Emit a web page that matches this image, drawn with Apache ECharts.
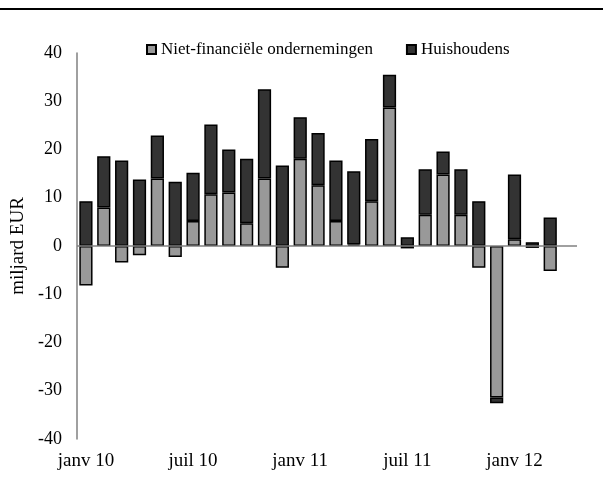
<!DOCTYPE html>
<html>
<head>
<meta charset="utf-8">
<script src="https://cdn.jsdelivr.net/npm/echarts@6/dist/echarts.min.js"></script>
<style>
  html, body { margin: 0; padding: 0; background: #fff; }
  #chart { width: 603px; height: 501px; }
</style>
</head>
<body>
<div id="chart"></div>
<script>
// Months, janv 10 .. avr 12 (last slot is empty in the original)
const months = ['janv 10', 'févr 10', 'mars 10', 'avr 10', 'mai 10', 'juin 10',
    'juil 10', 'août 10', 'sept 10', 'oct 10', 'nov 10', 'déc 10',
    'janv 11', 'févr 11', 'mars 11', 'avr 11', 'mai 11', 'juin 11',
    'juil 11', 'août 11', 'sept 11', 'oct 11', 'nov 11', 'déc 11',
    'janv 12', 'févr 12', 'mars 12', 'avr 12'];

// miljard EUR
const nietFinancieel = [-8.2, 8.0, -3.4, -1.9, 14.0, -2.3, 5.2, 10.7, 11.1, 4.7, 14.0, -4.5,
    18.1, 12.6, 5.2, 0.3, 9.3, 28.7, -0.5, 6.5, 14.8, 6.5, -4.5, -31.4,
    1.4, -0.4, -5.2, null];
const huishoudens = [9.3, 10.6, 17.7, 13.8, 8.9, 13.3, 10.0, 14.5, 8.9, 13.4, 18.5, 16.7,
    8.6, 10.8, 12.5, 15.2, 12.9, 6.8, 1.8, 9.4, 4.8, 9.4, 9.3, -1.2,
    13.4, 0.8, 5.9, null];

const yTicks = { min: -40, max: 40, step: 10 };

const font = 'Liberation Serif';

const chart = echarts.init(document.getElementById('chart'));
chart.setOption({
    animation: false,
    textStyle: { fontFamily: font },
    graphic: [{
        type: 'rect',
        shape: { x: 0, y: 8, width: 603, height: 2 },
        style: { fill: '#000' }
    }],
    legend: {
        left: 141,
        top: 36,
        itemWidth: 9,
        itemHeight: 9,
        itemGap: 33,
        icon: 'rect',
        textStyle: { fontFamily: font, fontSize: 17, color: '#000' },
        data: ['Niet-financiële ondernemingen', 'Huishoudens']
    },
    grid: { left: 77, right: 26, top: 53, bottom: 62, containLabel: false },
    xAxis: {
        type: 'category',
        data: months,
        axisLine: { show: false, onZero: false },
        axisTick: { show: false },
        axisLabel: {
            interval: 5,
            margin: 13,
            fontFamily: font,
            fontSize: 19,
            color: '#000'
        }
    },
    yAxis: {
        type: 'value',
        min: yTicks.min,
        max: yTicks.max,
        interval: yTicks.step,
        name: 'miljard EUR',
        nameLocation: 'middle',
        nameGap: 44,
        nameTextStyle: { fontFamily: font, fontSize: 19, color: '#000' },
        axisLine: { show: true, lineStyle: { color: '#808080', width: 1.5 } },
        axisTick: { show: false },
        splitLine: { show: false },
        axisLabel: { margin: 15, fontFamily: font, fontSize: 18, color: '#000' }
    },
    series: [{
        name: 'Niet-financiële ondernemingen',
        type: 'bar',
        stack: 'total',
        barCategoryGap: '26%',
        data: nietFinancieel,
        itemStyle: { color: '#999999', borderColor: '#000', borderWidth: 1.5 },
        markLine: {
            silent: true,
            symbol: 'none',
            label: { show: false },
            lineStyle: { color: '#808080', type: 'solid', width: 1.5 },
            data: [{ yAxis: 0 }]
        }
    }, {
        name: 'Huishoudens',
        type: 'bar',
        stack: 'total',
        data: huishoudens,
        itemStyle: { color: '#333333', borderColor: '#000', borderWidth: 1.5 }
    }]
});
</script>
</body>
</html>
